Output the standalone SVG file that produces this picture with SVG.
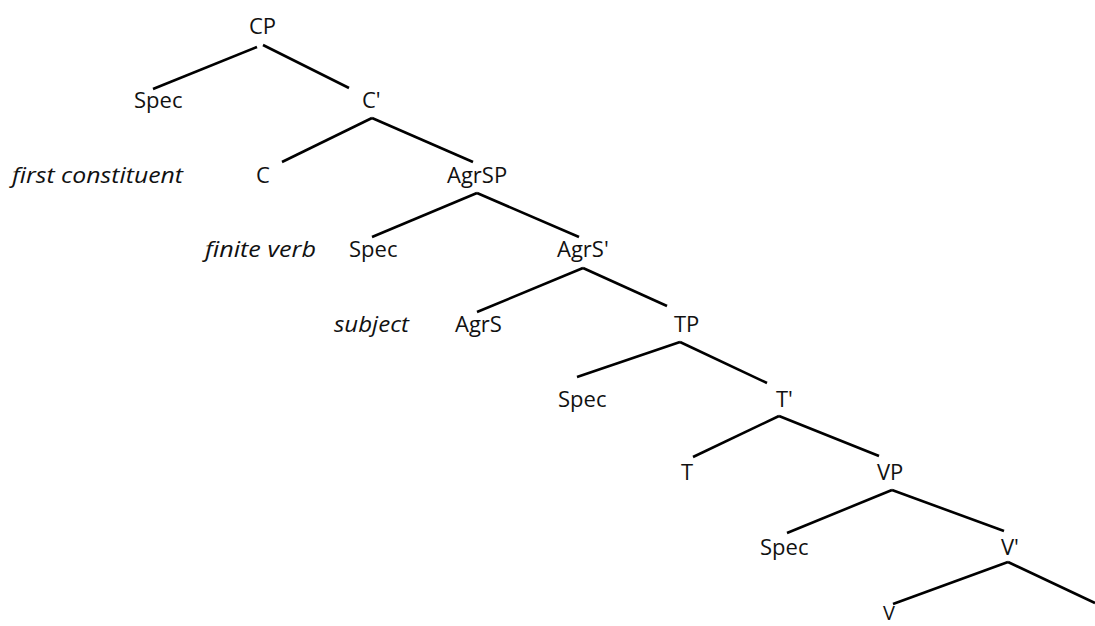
<svg xmlns="http://www.w3.org/2000/svg" width="1095" height="626" viewBox="0 0 1095 626">
<style>
.n{font-family:"Open Sans","Liberation Sans",sans-serif;font-size:22px;fill:#111}
.a{font-family:"Open Sans","Liberation Sans",sans-serif;font-size:22px;font-style:italic;fill:#111}
.e line{stroke:#000;stroke-width:2.6;stroke-linecap:butt}
</style>
<rect width="1095" height="626" fill="#fff"/>
<g id="edges" class="e">
<line x1="257" y1="47" x2="153" y2="89"/>
<line x1="263" y1="45" x2="349" y2="88"/>
<line x1="372" y1="118" x2="282" y2="162"/>
<line x1="372" y1="118" x2="473" y2="162"/>
<line x1="477" y1="193" x2="372" y2="237"/>
<line x1="477" y1="193" x2="579" y2="237"/>
<line x1="583" y1="268" x2="477" y2="312"/>
<line x1="583" y1="268" x2="667" y2="306"/>
<line x1="680" y1="342" x2="577" y2="377"/>
<line x1="680" y1="342" x2="767" y2="383"/>
<line x1="779" y1="416" x2="693" y2="457"/>
<line x1="779" y1="416" x2="879" y2="456"/>
<line x1="892" y1="490" x2="787" y2="533"/>
<line x1="892" y1="490" x2="1004" y2="531"/>
<line x1="1008" y1="562" x2="893" y2="604"/>
<line x1="1008" y1="562" x2="1095" y2="603"/>
</g>
<g id="CP"><text class="n" x="249" y="34">CP</text></g>
<g id="Spec1"><text class="n" x="134" y="108">Spec</text></g>
<g id="Cbar"><text class="n" x="362" y="108">C'</text></g>
<g id="lab1"><text class="a" x="12" y="183" textLength="171" lengthAdjust="spacingAndGlyphs">first constituent</text></g>
<g id="C"><text class="n" x="256" y="183">C</text></g>
<g id="AgrSP"><text class="n" x="447" y="183">AgrSP</text></g>
<g id="lab2"><text class="a" x="205" y="257" textLength="111" lengthAdjust="spacingAndGlyphs">finite verb</text></g>
<g id="Spec2"><text class="n" x="349" y="257">Spec</text></g>
<g id="AgrSbar"><text class="n" x="557" y="257">AgrS'</text></g>
<g id="lab3"><text class="a" x="334" y="332" textLength="75" lengthAdjust="spacingAndGlyphs">subject</text></g>
<g id="AgrS"><text class="n" x="455" y="332">AgrS</text></g>
<g id="TP"><text class="n" x="674" y="332">TP</text></g>
<g id="Spec3"><text class="n" x="558" y="407">Spec</text></g>
<g id="Tbar"><text class="n" x="776" y="407">T'</text></g>
<g id="T"><text class="n" x="681" y="480">T</text></g>
<g id="VP"><text class="n" x="877" y="480">VP</text></g>
<g id="Spec4"><text class="n" x="760" y="555">Spec</text></g>
<g id="Vbar"><text class="n" x="1001" y="555">V'</text></g>
<g id="V"><text class="n" x="883" y="620" style="font-size:20px">V</text></g>
</svg>
